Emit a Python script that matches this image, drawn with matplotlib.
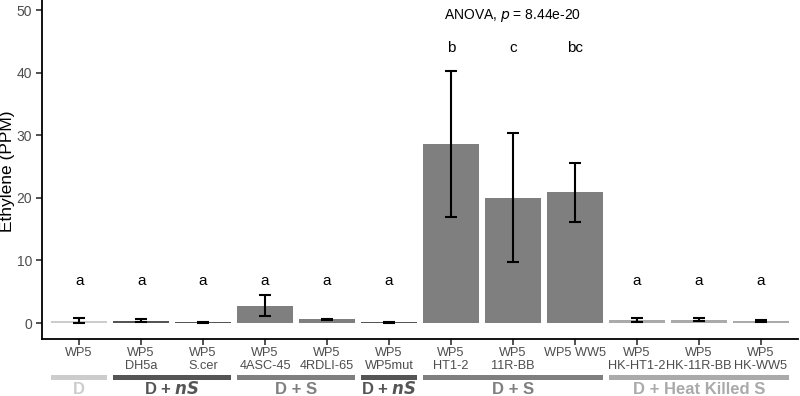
import matplotlib
matplotlib.use("Agg")
import matplotlib.pyplot as plt
import numpy as np

plt.rcParams['font.family'] = ['Liberation Sans', 'DejaVu Sans']

labels = ["WP5", "WP5\nDH5a", "WP5\nS.cer", "WP5\n4ASC-45", "WP5\n4RDLI-65", "WP5\nWP5mut",
          "WP5\nHT1-2", "WP5\n11R-BB", "WP5 WW5", "WP5\nHK-HT1-2", "WP5\nHK-11R-BB", "WP5\nHK-WW5"]
means = [0.4, 0.4, 0.1, 2.75, 0.6, 0.1, 28.6, 20.0, 20.9, 0.5, 0.5, 0.35]
errs = [0.35, 0.3, 0.1, 1.65, 0.1, 0.1, 11.7, 10.3, 4.7, 0.35, 0.25, 0.2]
letters = ["a", "a", "a", "a", "a", "a", "b", "c", "bc", "a", "a", "a"]
bar_colors = ["#cccccc", "#555555", "#555555", "#7f7f7f", "#7f7f7f", "#555555",
              "#7f7f7f", "#7f7f7f", "#7f7f7f", "#aaaaaa", "#aaaaaa", "#aaaaaa"]
groups = [("D", 0, 0, "#cccccc", False), ("D + nS", 1, 2, "#555555", True),
          ("D + S", 3, 4, "#7f7f7f", False), ("D + nS", 5, 5, "#555555", True),
          ("D + S", 6, 8, "#7f7f7f", False), ("D + Heat Killed S", 9, 11, "#aaaaaa", False)]

fig = plt.figure(figsize=(8, 3.96), dpi=100)
ax = fig.add_axes([0.0525, 1 - 339 / 396, 0.9975 - 0.0525, 339 / 396])

x = np.arange(len(labels))
ax.bar(x, means, width=0.9, color=bar_colors, zorder=1)
ax.errorbar(x, means, yerr=errs, fmt='none', ecolor='black', elinewidth=1.5,
            capsize=4, capthick=1.5, zorder=2)

for xi, l in zip(x, letters):
    yl = 43.9 if l != "a" else 6.7
    ax.text(xi, yl, l, ha='center', va='center', fontsize=11, color='black')

ax.text(7.0, 49.2, "ANOVA, $\\it{p}$ = 8.44e-20", ha='center', va='center', fontsize=10)

ax.set_xlim(-0.6, 11.6)
ax.set_ylim(-2.55, 51.6)
ax.set_yticks([0, 10, 20, 30, 40, 50])
ax.set_xticks(x)
ax.set_xticklabels(labels, fontsize=9.2, color='#4d4d4d', linespacing=1.05)
ax.tick_params(axis='y', labelsize=10, labelcolor='#4d4d4d', length=4, width=1.2, color='#333333', pad=3)
ax.tick_params(axis='x', length=4, width=1.2, color='#333333', pad=2)
ax.set_ylabel("Ethylene (PPM)", fontsize=12.5)
ax.yaxis.label.set_verticalalignment('center')
ax.yaxis.set_label_coords((8 - 42) / 756, (339 - 171) / 339)
for s in ['top', 'right']:
    ax.spines[s].set_visible(False)
for s in ['left', 'bottom']:
    ax.spines[s].set_linewidth(1.3)
    ax.spines[s].set_color('black')

trans = ax.get_xaxis_transform()
axh = 339.0
y0 = (339 - 380) / axh
y1 = (339 - 375) / axh
yt = (339 - 389) / axh
for name, a, b, col, ital in groups:
    ax.fill_between([a - 0.45, b + 0.45], [y0, y0], [y1, y1], color=col,
                    transform=trans, clip_on=False, linewidth=0)
    if ital:
        txt = "D + $\\mathbfit{nS}$"
    else:
        txt = name
    ax.text((a + b) / 2, yt, txt, transform=trans, ha='center', va='center',
            fontsize=12, fontweight='bold', color=col, clip_on=False)

fig.savefig("out.png", dpi=100)
